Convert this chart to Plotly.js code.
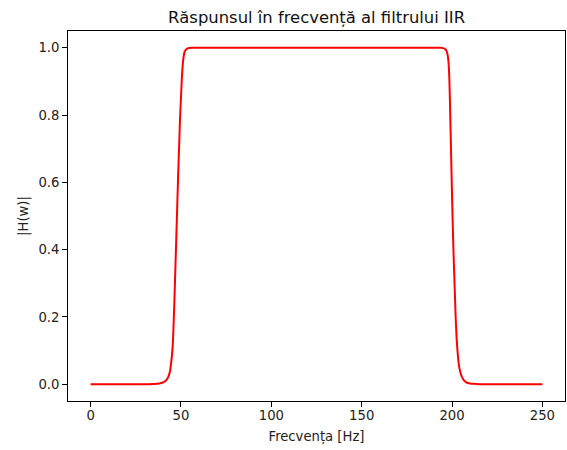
<!DOCTYPE html>
<html>
<head>
<meta charset="utf-8">
<script src="https://cdn.plot.ly/plotly-3.0.1.min.js"></script>
<style>html,body{margin:0;padding:0;background:#fff;}#chart{width:567px;height:450px;}</style>
</head>
<body>
<div id="chart"></div>
<script>
// Frequency (Hz) and magnitude |H(w)|
const freqHz = [0, 10, 20, 30, 35, 38, 40, 41, 42, 43, 44, 44.5, 45, 45.5, 46, 46.5, 47, 47.5, 48, 48.5, 49, 49.5, 50, 50.5, 51, 51.5, 52, 53, 54, 56, 60, 100, 150, 190, 194, 195, 196, 197, 197.5, 198, 198.5, 199, 199.5, 200, 200.5, 201, 201.5, 202, 202.5, 203, 203.5, 204, 205, 206, 207, 208, 210, 212, 215, 230, 250];
const magnitude = [0, 0, 0, 0, 0.0005, 0.002, 0.005, 0.008, 0.013, 0.022, 0.04, 0.06, 0.085, 0.12, 0.19, 0.27, 0.36, 0.45, 0.54, 0.63, 0.71, 0.79, 0.85, 0.91, 0.95, 0.975, 0.988, 0.996, 0.999, 1.0, 1.0, 1.0, 1.0, 1.0, 1.0, 0.999, 0.997, 0.99, 0.98, 0.96, 0.91, 0.80, 0.68, 0.56, 0.45, 0.36, 0.28, 0.20, 0.14, 0.10, 0.07, 0.05, 0.028, 0.016, 0.009, 0.005, 0.002, 0.001, 0, 0, 0];
const xTicks = [0, 50, 100, 150, 200, 250];
const yTicks = [0.0, 0.2, 0.4, 0.6, 0.8, 1.0];
const yTickText = ["0.0", "0.2", "0.4", "0.6", "0.8", "1.0"];
const titleText = "Răspunsul în frecvență al filtrului IIR";
const xLabel = "Frecvența [Hz]";
const yLabel = "|H(w)|";

const font = "DejaVu Sans, sans-serif";
const axisCommon = {
  showgrid: false, zeroline: false, showline: true, mirror: true,
  linecolor: "#000", linewidth: 1, ticks: "outside", ticklen: 5, tickwidth: 1,
  tickcolor: "#000", tickfont: {family: font, size: 13.2, color: "#222"}
};
Plotly.newPlot("chart", [{
  x: freqHz, y: magnitude, type: "scatter", mode: "lines",
  line: {color: "#ff0000", width: 2, shape: "spline", smoothing: 0.6},
  hoverinfo: "skip"
}], {
  width: 567, height: 450,
  margin: {l: 68, r: 2, t: 31, b: 49},
  paper_bgcolor: "#fff", plot_bgcolor: "#fff",
  showlegend: false,
  title: {text: titleText, font: {family: font, size: 16.4, color: "#111"},
          x: 0.5, xref: "paper", xanchor: "center", y: 1 - 17/450, yref: "container", yanchor: "middle"},
  xaxis: Object.assign({}, axisCommon, {
    range: [-12.5, 262.5], tickvals: xTicks, ticktext: xTicks.map(String),
    ticklabelstandoff: -3,
    title: {text: xLabel, font: {family: font, size: 13.2, color: "#222"}, standoff: 9}
  }),
  yaxis: Object.assign({}, axisCommon, {
    range: [-0.05, 1.05], tickvals: yTicks, ticktext: yTickText,
    title: {text: yLabel, font: {family: font, size: 13.2, color: "#222"}, standoff: 6}
  })
}, {staticPlot: true, displayModeBar: false});
</script>
</body>
</html>
